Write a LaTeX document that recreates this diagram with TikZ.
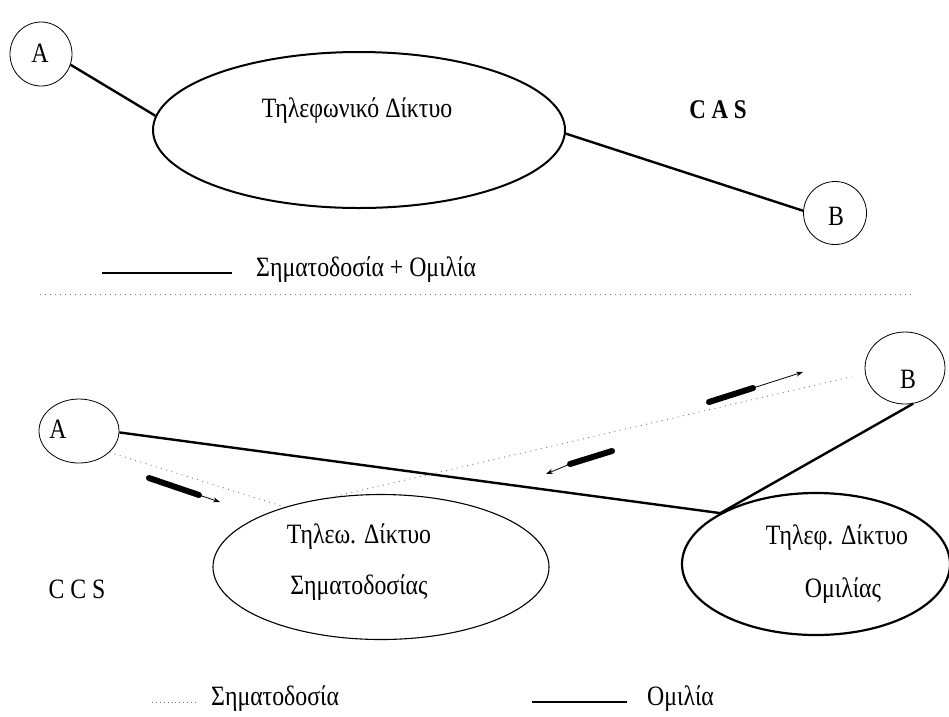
\documentclass[tikz,border=0pt]{standalone}
\usepackage{fontspec}
\setmainfont[FakeStretch=0.85]{Liberation Serif}
\usetikzlibrary{shapes.geometric,arrows.meta}

\tikzset{
  ring/.style={draw, ellipse, line width=0.8pt, inner sep=0pt},
  netbox/.style={draw, ellipse, inner sep=0pt},
  lbl/.style={font=\fontsize{28}{32}\selectfont, inner sep=0pt},
  speech/.style={line width=2.4pt},
  signal/.style={draw=black!55, line width=0.9pt, dash pattern=on 0.9pt off 4.5pt},
  pencil/.style={line width=6pt, line cap=round},
  tipline/.style={line width=0.8pt, -{Stealth[length=7pt,width=5pt]}}
}

\begin{document}
\begin{tikzpicture}[x=1pt, y=-1pt]
  \useasboundingbox (0,0) rectangle (949,716);

  % ---------- upper part: CAS ----------
  \node[ring, minimum width=62pt, minimum height=64pt] (A1) at (41,54) {};
  \node[lbl] (A1t) at (40,53) {A};
  \node[netbox, line width=2pt, minimum width=412pt, minimum height=156pt] (net) at (359,130) {};
  \node[lbl] (nett) at (357,111) {Τηλεφωνικό Δίκτυο};
  \node[ring, minimum width=63pt, minimum height=63pt] (B1) at (835,213) {};
  \node[lbl] (B1t) at (836,216) {B};
  \node[lbl, font=\fontsize{27}{30}\selectfont\bfseries] (cas) at (718,110) {C A S};

  \draw[speech] (A1.-20) -- (net.176);
  \draw[speech] (net.-1) -- (B1.176);

  % legend of the upper part
  \coordinate (lg1a) at (102,273);
  \coordinate (lg1b) at (232,273);
  \draw[speech, line width=2pt] (lg1a) -- (lg1b);
  \node[lbl, anchor=west] (lg1t) at (256,270) {Σηματοδοσία + Ομιλία};

  % separator between the two parts
  \coordinate (sepa) at (40,294);
  \coordinate (sepb) at (912,294);
  \draw[signal, line width=0.8pt, dash pattern=on 1pt off 4pt] (sepa) -- (sepb);

  % ---------- lower part: CCS ----------
  \node[ring, minimum width=80pt, minimum height=64pt] (A2) at (79,431) {};
  \node[lbl] (A2t) at (58,429) {A};
  \node[ring, minimum width=80pt, minimum height=72pt] (B2) at (905,368) {};
  \node[lbl] (B2t) at (908,379) {B};

  \node[netbox, line width=1.1pt, minimum width=336pt, minimum height=145pt] (S) at (381,567) {};
  \node[lbl] (St1) at (359,537) {Τηλεω. Δίκτυο};
  \node[lbl] (St2) at (359,588) {Σηματοδοσίας};

  \node[netbox, line width=2.2pt, minimum width=268pt, minimum height=142pt] (O) at (816,564) {};
  \node[lbl] (Ot1) at (837,538) {Τηλεφ. Δίκτυο};
  \node[lbl] (Ot2) at (843,591) {Ομιλίας};

  \node[lbl] (ccs) at (77,589) {C C S};

  % speech path
  \coordinate (J) at (O.152);
  \draw[speech] (A2.-2) -- (J) -- (B2.-77);

  % signalling paths
  \draw[signal] (A2.-35) -- (S.148);
  \draw[signal, shorten >=14pt] (S.126) -- (B2.188);

  % direction marks of the signalling messages
  \draw[pencil] (149,478) -- (199,495);
  \draw[tipline] (199,495) -- (220,502);
  \draw[pencil] (709,402) -- (753,388);
  \draw[tipline] (753,388) -- (803,372);
  \draw[pencil] (612,451) -- (570,464);
  \draw[tipline] (570,464) -- (546,474);

  % legend of the lower part
  \coordinate (lg2a) at (152,702);
  \coordinate (lg2b) at (198,702);
  \draw[signal, dash pattern=on 0.9pt off 3pt] (lg2a) -- (lg2b);
  \node[lbl, anchor=west] (lg2t) at (211,699) {Σηματοδοσία};
  \coordinate (lg3a) at (532,702);
  \coordinate (lg3b) at (627,702);
  \draw[speech] (lg3a) -- (lg3b);
  \node[lbl, anchor=west] (lg3t) at (647,699) {Ομιλία};
\end{tikzpicture}
\end{document}
